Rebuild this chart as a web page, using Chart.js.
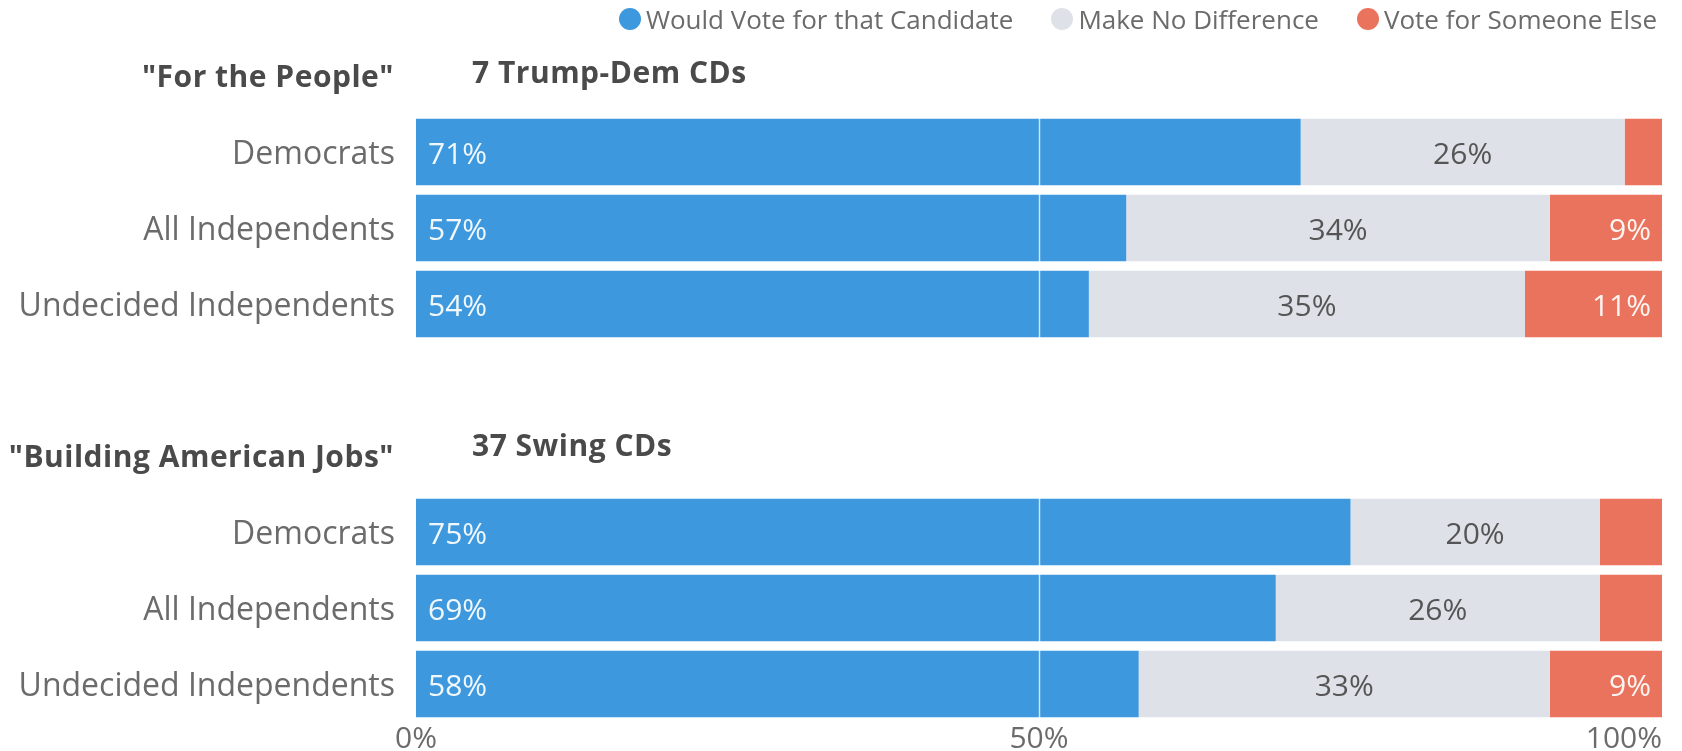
<!DOCTYPE html>
<html>
<head>
<meta charset="utf-8">
<script src="https://cdn.jsdelivr.net/npm/chart.js@4.4.1/dist/chart.umd.min.js"></script>
<style>
  html, body { margin: 0; padding: 0; background: #fff; }
  #wrap { position: relative; width: 1682px; height: 751px; }
  #legend {
    position: absolute; top: 6px; right: 25px; height: 25px;
    display: flex; align-items: center;
    font-family: 'Open Sans', sans-serif; font-size: 26px; color: #6b6b6b;
  }
  #legend .item { display: flex; align-items: center; margin-left: 38px; white-space: nowrap; }
  #legend .dot { width: 22px; height: 22px; border-radius: 50%; margin-right: 5px; }
</style>
</head>
<body>
<div id="wrap">
  <canvas id="chart"></canvas>
  <div id="legend"></div>
</div>
<script>
// rows: two survey groups separated by two empty spacer rows
const categories = ['Democrats', 'All Independents', 'Undecided Independents', '', '',
                    'Democrats', 'All Independents', 'Undecided Independents'];
const wouldVote    = [71, 57, 54, null, null, 75, 69, 58];
const noDifference = [26, 34, 35, null, null, 20, 26, 33];
const someoneElse  = [3, 9, 11, null, null, 5, 5, 9];
const xTicks = [0, 50, 100];
const seriesNames = ['Would Vote for that Candidate', 'Make No Difference', 'Vote for Someone Else'];
const groupTitles = ['"For the People"', '"Building American Jobs"'];
const groupSubtitles = ['7 Trump-Dem CDs', '37 Swing CDs'];
const groupFirstRow = [0, 5];

const colors = ['#3d98dd', '#dee1e8', '#e9735c'];
const FONT = "'Open Sans', sans-serif";

// white 50% line sits on top of the bars
const midLine = {
  id: 'midLine',
  afterDatasetsDraw(chart) {
    const { ctx, chartArea, scales } = chart;
    const x = Math.round(scales.x.getPixelForValue(50)) + 0.5;
    ctx.save();
    ctx.strokeStyle = 'rgba(255,255,255,0.75)';
    ctx.lineWidth = 1.5;
    ctx.beginPath();
    ctx.moveTo(x, chartArea.top);
    ctx.lineTo(x, chartArea.bottom);
    ctx.stroke();
    ctx.restore();
  }
};

const barLabels = {
  id: 'barLabels',
  afterDatasetsDraw(chart) {
    const { ctx } = chart;
    ctx.save();
    ctx.font = `30px ${FONT}`;
    ctx.textBaseline = 'middle';
    chart.data.datasets.forEach((ds, di) => {
      chart.getDatasetMeta(di).data.forEach((bar, i) => {
        const v = ds.data[i];
        if (v == null) return;
        const { x, y, base } = bar.getProps(['x', 'y', 'base'], true);
        const ty = y + 3;
        if (di === 0) {
          ctx.fillStyle = 'rgba(255,255,255,0.93)';
          ctx.textAlign = 'left';
          ctx.fillText(v + '%', base + 12, ty);
        } else if (di === 1) {
          ctx.fillStyle = '#555';
          ctx.textAlign = 'center';
          ctx.fillText(v + '%', (base + x) / 2, ty);
        } else if (v >= 9) {
          ctx.fillStyle = 'rgba(255,255,255,0.93)';
          ctx.textAlign = 'right';
          ctx.fillText(v + '%', x - 11, ty);
        }
      });
    });
    ctx.restore();
  }
};

const titlesAndTicks = {
  id: 'titlesAndTicks',
  afterDraw(chart) {
    const { ctx, chartArea, scales } = chart;
    const offs = [[-74, -78], [-74, -85]];
    ctx.save();
    ctx.textBaseline = 'middle';
    ctx.font = `bold 30px ${FONT}`;
    ctx.letterSpacing = '0.5px';
    ctx.fillStyle = '#4a4a4a';
    groupTitles.forEach((t, g) => {
      const y0 = scales.y.getPixelForValue(groupFirstRow[g]);
      ctx.textAlign = 'right';
      ctx.fillText(t, chartArea.left - 22, y0 + offs[g][0]);
      ctx.textAlign = 'left';
      ctx.fillText(groupSubtitles[g], chartArea.left + 56, y0 + offs[g][1]);
    });
    // x tick labels, the last one kept inside the plot edge
    ctx.letterSpacing = '0px';
    ctx.font = `30px ${FONT}`;
    ctx.fillStyle = '#6b6b6b';
    xTicks.forEach((v, i) => {
      const x = scales.x.getPixelForValue(v);
      const txt = v + '%';
      if (i === xTicks.length - 1) {
        ctx.textAlign = 'right';
        ctx.fillText(txt, chartArea.right, chartArea.bottom + 17);
      } else {
        ctx.textAlign = 'center';
        ctx.fillText(txt, x, chartArea.bottom + 17);
      }
    });
    ctx.restore();
  }
};

const data = {
  labels: categories,
  datasets: [wouldVote, noDifference, someoneElse].map((d, i) => ({
    label: seriesNames[i],
    data: d,
    backgroundColor: colors[i],
    borderWidth: 0,
    categoryPercentage: 1,
    barPercentage: 0.875
  }))
};

const chart = new Chart(document.getElementById('chart'), {
  type: 'bar',
  data,
  options: {
    indexAxis: 'y',
    responsive: true,
    maintainAspectRatio: false,
    animation: false,
    layout: { padding: { top: 114, bottom: 29, right: 20, left: 0 } },
    plugins: { legend: { display: false }, tooltip: { enabled: false } },
    scales: {
      x: { display: false, stacked: true, min: 0, max: 100 },
      y: {
        stacked: true,
        grid: { display: false }, border: { display: false },
        ticks: { color: '#6b6b6b', padding: 13, labelOffset: 3, font: { family: FONT, size: 32 } },
        afterFit(s) { s.width = 416; s.paddingTop = 0; s.paddingBottom = 0; }
      }
    }
  },
  plugins: [midLine, barLabels, titlesAndTicks]
});

// legend built from the datasets
document.getElementById('legend').innerHTML = chart.data.datasets.map(ds =>
  `<div class="item"><span class="dot" style="background:${ds.backgroundColor}"></span>${ds.label}</div>`
).join('');
</script>
</body>
</html>
